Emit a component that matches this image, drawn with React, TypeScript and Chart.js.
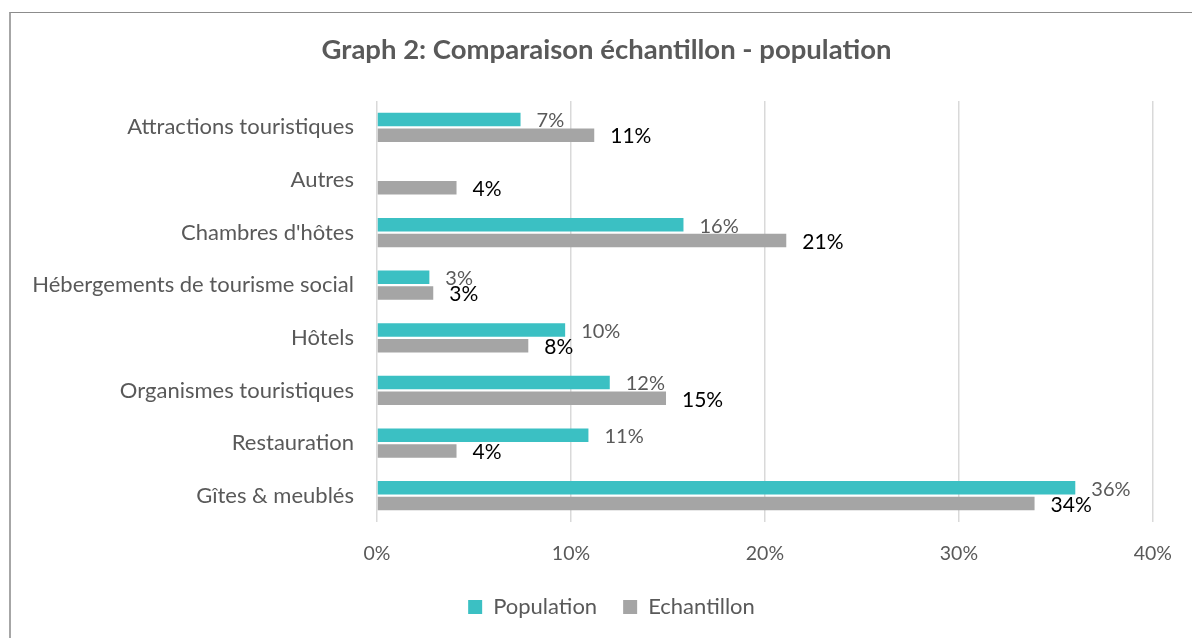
import { useEffect, useRef } from "react";
import { Chart, registerables } from "chart.js";

Chart.register(...registerables);

const categories = [
  "Attractions touristiques",
  "Autres",
  "Chambres d'hôtes",
  "Hébergements de tourisme social",
  "Hôtels",
  "Organismes touristiques",
  "Restauration",
  "Gîtes & meublés",
];
const population: (number | null)[] = [7.4, null, 15.8, 2.7, 9.7, 12.0, 10.9, 36.0];
const echantillon: number[] = [11.2, 4.1, 21.1, 2.9, 7.8, 14.9, 4.1, 33.9];
const xTicks = [0, 10, 20, 30, 40];

const FONT = "Lato, 'Open Sans', sans-serif";
const TEXT = "#595959";
const TEAL = "#3BC0C3";
const GREY = "#A5A5A5";

// per-dataset style of the value written at the end of each bar
const labelStyles = [
  { size: 20, color: TEXT },
  { size: 21, color: "#000000" },
];

const valueLabels = {
  id: "valueLabels",
  afterDatasetsDraw(chart: any) {
    const ctx = chart.ctx;
    chart.data.datasets.forEach((ds: any, di: number) => {
      const meta = chart.getDatasetMeta(di);
      const style = labelStyles[di];
      meta.data.forEach((bar: any, i: number) => {
        const v = ds.data[i];
        if (v == null) return;
        ctx.save();
        ctx.font = `${style.size}px ${FONT}`;
        ctx.fillStyle = style.color;
        ctx.textAlign = "left";
        ctx.textBaseline = "middle";
        ctx.fillText(`${Math.round(v)}%`, bar.x + 16, bar.y + 1.5);
        ctx.restore();
      });
    });
  },
};

// centre the title and legend on the framed panel, which runs past the canvas on the right
const panelCentre = {
  id: "panelCentre",
  afterLayout(chart: any) {
    const shift = (box: any, dx: number) => {
      if (!box) return;
      box.left += dx;
      box.right += dx;
    };
    shift(chart.titleBlock, 24.5);
    shift(chart.legend, 29.5);
  },
};

export default function App() {
  const canvasRef = useRef<HTMLCanvasElement | null>(null);

  useEffect(() => {
    if (!canvasRef.current) return;
    const chart = new Chart(canvasRef.current, {
      type: "bar",
      data: {
        labels: categories,
        datasets: [
          {
            label: "Population",
            data: population,
            backgroundColor: TEAL,
            categoryPercentage: 0.6,
            barPercentage: 0.85,
          },
          {
            label: "Echantillon",
            data: echantillon,
            backgroundColor: GREY,
            categoryPercentage: 0.6,
            barPercentage: 0.85,
          },
        ],
      },
      options: {
        indexAxis: "y",
        animation: false,
        responsive: false,
        maintainAspectRatio: false,
        layout: { padding: { left: 10, right: 38, top: 0, bottom: 10 } },
        scales: {
          x: {
            min: xTicks[0],
            max: xTicks[xTicks.length - 1],
            afterBuildTicks: (scale: any) => {
              scale.ticks = xTicks.map((v) => ({ value: v }));
            },
            afterFit: (scale: any) => {
              scale.height = 48;
            },
            ticks: {
              callback: (v: any) => `${v}%`,
              color: TEXT,
              font: { family: FONT, size: 19.5 },
              padding: 20,
            },
            grid: { color: "#D9D9D9", lineWidth: 1.5, drawTicks: false },
            border: { display: false },
          },
          y: {
            afterFit: (scale: any) => {
              scale.width = 367;
            },
            ticks: {
              color: TEXT,
              font: { family: FONT, size: 22 },
              padding: 15,
            },
            grid: { display: false },
            border: { display: false },
          },
        },
        plugins: {
          title: {
            display: true,
            text: "Graph 2: Comparaison échantillon - population",
            color: TEXT,
            font: { family: FONT, size: 27.5, weight: "bold" },
            padding: { top: 33.5, bottom: 34.5 },
          },
          legend: {
            position: "bottom",
            labels: {
              color: TEXT,
              font: { family: FONT, size: 22 },
              boxWidth: 14,
              boxHeight: 14,
              padding: 26,
            },
          },
          tooltip: { enabled: false },
        },
      },
      plugins: [valueLabels, panelCentre],
    });
    return () => chart.destroy();
  }, []);

  return (
    <div
      style={{
        position: "fixed",
        left: 0,
        top: 0,
        width: 1192,
        height: 638,
        background: "#FFFFFF",
        overflow: "hidden",
      }}
    >
      <div
        style={{
          position: "absolute",
          left: 9,
          top: 12,
          width: 1300,
          height: 800,
          borderTop: "1px solid #8C8C8C",
          borderLeft: "2px solid #A6A6A6",
        }}
      />
      <canvas
        ref={canvasRef}
        width={1192}
        height={638}
        style={{ position: "absolute", left: 0, top: 0, width: 1192, height: 638 }}
      />
    </div>
  );
}
